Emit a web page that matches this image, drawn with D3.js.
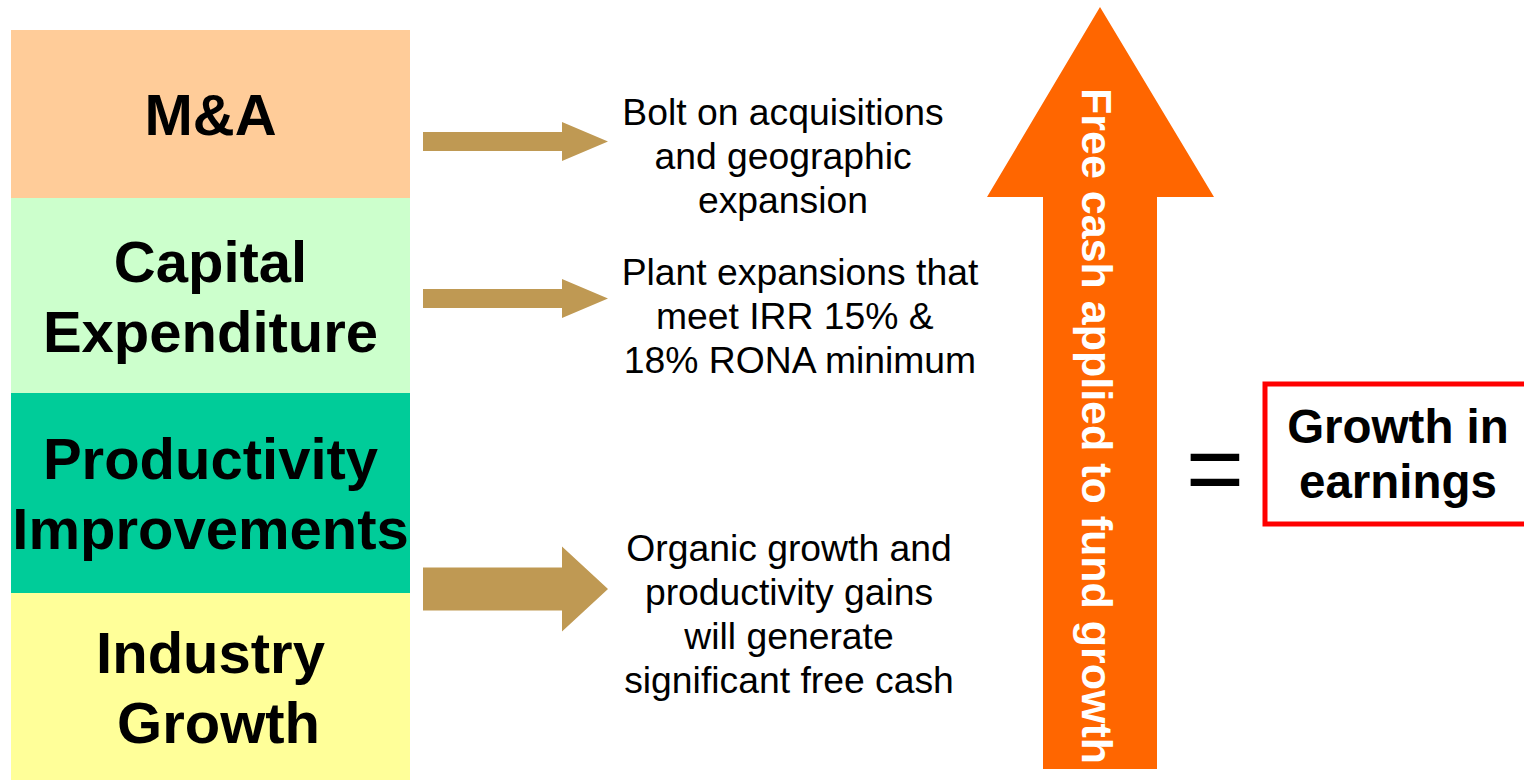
<!DOCTYPE html>
<html lang="en">
<head>
  <meta charset="UTF-8">
  <title>Free cash applied to fund growth</title>
  <script src="https://d3js.org/d3.v7.min.js"></script>
  <style>
    body {
      margin: 0;
      background: #fff;
      font-family: "Liberation Sans", Arial, sans-serif;
    }
    svg {
      display: block;
    }
    .title {
      font-weight: bold;
      font-size: 58px;
      fill: #000;
    }
    .desc {
      font-size: 37.3px;
      fill: #000;
    }
  </style>
</head>
<body>
  <div id="chart"></div>

  <script>
    // drivers on the left, from top to bottom
    const drivers = ["M&A", "Capital Expenditure", "Productivity Improvements", "Industry Growth"];
    const driverLines = [["M&A"], ["Capital", "Expenditure"], ["Productivity", "Improvements"], ["Industry", " Growth"]];
    const driverColors = ["#FFCC99", "#CCFFCC", "#00CC99", "#FFFF99"];

    // explanation next to each arrow
    const notes = [
      ["Bolt on acquisitions", "and geographic", "expansion"],
      ["Plant expansions that", "meet IRR 15% & ", "18% RONA minimum"],
      ["Organic growth and", "productivity gains", "will generate", "significant free cash"]
    ];
    const arrowSizes = ["small", "small", "large"];

    const bigArrowLabel = "Free cash applied to fund growth";
    const resultLines = ["Growth in", "earnings"];

    const width = 1524;
    const height = 780;

    const svg = d3.select("#chart")
      .append("svg")
      .attr("width", width)
      .attr("height", height);

    // ——— left stack of boxes
    const boxEdges = [30, 198, 393, 593, 780];
    const boxX = 11, boxW = 399;
    const lineGap = 70;

    const boxes = svg.selectAll("g.driver")
      .data(drivers)
      .join("g")
      .attr("class", "driver");

    boxes.append("rect")
      .attr("x", boxX)
      .attr("y", (d, i) => boxEdges[i])
      .attr("width", boxW)
      .attr("height", (d, i) => boxEdges[i + 1] - boxEdges[i])
      .attr("fill", (d, i) => driverColors[i]);

    boxes.each(function (d, i) {
      const lines = driverLines[i];
      const cy = (boxEdges[i] + boxEdges[i + 1]) / 2;
      const first = cy - (lines.length - 1) * lineGap / 2 + 21;
      d3.select(this).selectAll("text")
        .data(lines)
        .join("text")
        .attr("class", "title")
        .attr("x", boxX + boxW / 2)
        .attr("y", (t, j) => first + j * lineGap)
        .attr("text-anchor", "middle")
        .style("white-space", "pre")
        .text(t => t);
    });

    // ——— small arrows pointing to the notes
    const arrowCy = [141.5, 298.5, 589];
    const dims = {
      small: { shaft: 9.5, head: 19.5 },
      large: { shaft: 21.5, head: 42.5 }
    };
    const ax0 = 423, axHead = 562, axTip = 608;

    svg.selectAll("path.pointer")
      .data(arrowSizes)
      .join("path")
      .attr("class", "pointer")
      .attr("fill", "#BF9953")
      .attr("d", (s, i) => {
        const c = arrowCy[i], sh = dims[s].shaft, hd = dims[s].head;
        const p = d3.path();
        p.moveTo(ax0, c - sh);
        p.lineTo(axHead, c - sh);
        p.lineTo(axHead, c - hd);
        p.lineTo(axTip, c);
        p.lineTo(axHead, c + hd);
        p.lineTo(axHead, c + sh);
        p.lineTo(ax0, c + sh);
        p.closePath();
        return p.toString();
      });

    // ——— notes
    const noteX = [783, 800, 789];
    const noteY = [125, 285, 561];
    const noteGap = 44;

    svg.selectAll("g.note")
      .data(notes)
      .join("g")
      .attr("class", "note")
      .each(function (lines, i) {
        d3.select(this).selectAll("text")
          .data(lines)
          .join("text")
          .attr("class", "desc")
          .attr("x", noteX[i])
          .attr("y", (t, j) => noteY[i] + j * noteGap)
          .attr("text-anchor", "middle")
          .style("white-space", "pre")
          .text(t => t);
      });

    // ——— big orange arrow
    const big = { tipX: 1100, tipY: 7, headY: 197, headL: 987, headR: 1214, shaftL: 1043, shaftR: 1157, bottom: 769 };
    const bp = d3.path();
    bp.moveTo(big.tipX, big.tipY);
    bp.lineTo(big.headR, big.headY);
    bp.lineTo(big.shaftR, big.headY);
    bp.lineTo(big.shaftR, big.bottom);
    bp.lineTo(big.shaftL, big.bottom);
    bp.lineTo(big.shaftL, big.headY);
    bp.lineTo(big.headL, big.headY);
    bp.closePath();

    svg.append("path")
      .attr("d", bp.toString())
      .attr("fill", "#FF6600");

    svg.append("text")
      .attr("transform", "translate(1082,88) rotate(90)")
      .attr("fill", "#fff")
      .attr("font-weight", "bold")
      .attr("font-size", 43)
      .text(bigArrowLabel);

    // ——— equals sign and result box
    svg.append("text")
      .attr("x", 1215)
      .attr("y", 503)
      .attr("text-anchor", "middle")
      .attr("font-size", 100)
      .text("=");

    svg.append("rect")
      .attr("x", 1265)
      .attr("y", 384)
      .attr("width", 290)
      .attr("height", 140)
      .attr("fill", "#fff")
      .attr("stroke", "#FF0000")
      .attr("stroke-width", 5);

    svg.selectAll("text.result")
      .data(resultLines)
      .join("text")
      .attr("class", "result")
      .attr("x", 1398)
      .attr("y", (t, j) => 443 + j * 55)
      .attr("text-anchor", "middle")
      .attr("font-weight", "bold")
      .attr("font-size", 47.5)
      .text(t => t);
  </script>
</body>
</html>
